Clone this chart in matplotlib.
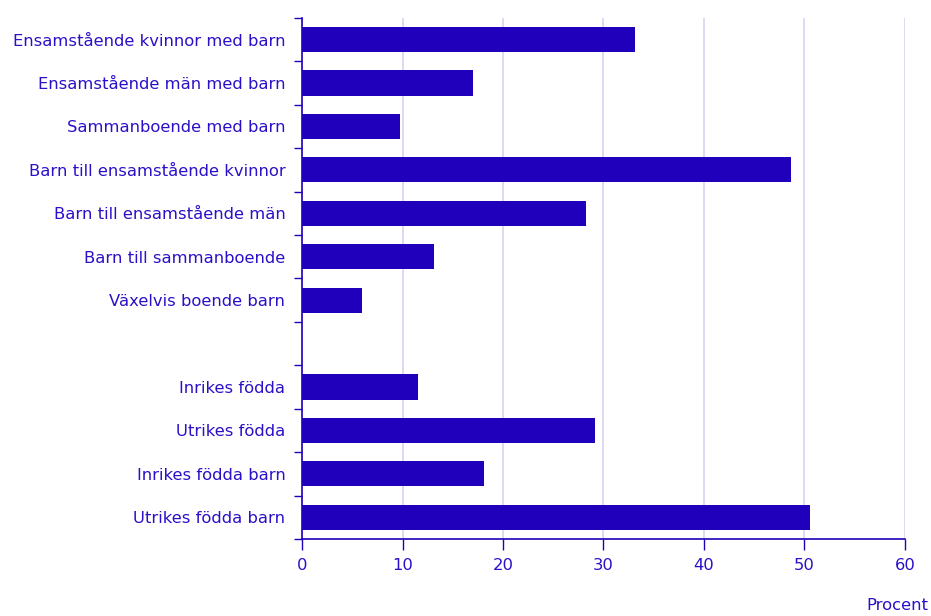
import numpy as np
import matplotlib.pyplot as plt

plt.rcParams['font.family'] = ['DejaVu Sans']
plt.rcParams['font.size'] = 11.8

categories = [
    'Ensamstående kvinnor med barn',
    'Ensamstående män med barn',
    'Sammanboende med barn',
    'Barn till ensamstående kvinnor',
    'Barn till ensamstående män',
    'Barn till sammanboende',
    'Växelvis boende barn',
    '',
    'Inrikes födda',
    'Utrikes födda',
    'Inrikes födda barn',
    'Utrikes födda barn',
]
values = [33.1, 17.0, 9.8, 48.7, 28.3, 13.1, 6.0, np.nan, 11.5, 29.2, 18.1, 50.6]
xticks = [0, 10, 20, 30, 40, 50, 60]

bar_color = '#2000BB'
text_color = '#2A10C8'
grid_color = '#D8D8F2'

fig = plt.figure(figsize=(9.31, 6.16), dpi=100)
ax = fig.add_axes([0.3244, 0.125, 0.6476, 0.846])

y = np.arange(len(categories))
ax.barh(y, values, height=0.58, color=bar_color, zorder=3)

ax.set_ylim(len(categories) - 0.5, -0.5)
ax.set_xlim(0, 60)
ax.set_xticks(xticks)
ax.set_xticklabels([str(t) for t in xticks], color=text_color)
ax.set_yticks(y)
ax.set_yticklabels(categories, color=text_color)
ax.set_yticks(np.arange(len(categories) + 1) - 0.5, minor=True)
ax.tick_params(axis='y', which='major', length=0, pad=12)
ax.tick_params(axis='y', which='minor', length=6, color=bar_color, width=1)
ax.tick_params(axis='x', length=8, color=bar_color, width=1, pad=6)

ax.grid(axis='x', color=grid_color, linewidth=1.3, zorder=0)
for side in ['top', 'right']:
    ax.spines[side].set_visible(False)
for side in ['left', 'bottom']:
    ax.spines[side].set_color(bar_color)
    ax.spines[side].set_linewidth(1.2)

fig.text(0.997, 0.005, 'Procent', ha='right', va='bottom', color=text_color)

fig.savefig('out.png', dpi=100)
